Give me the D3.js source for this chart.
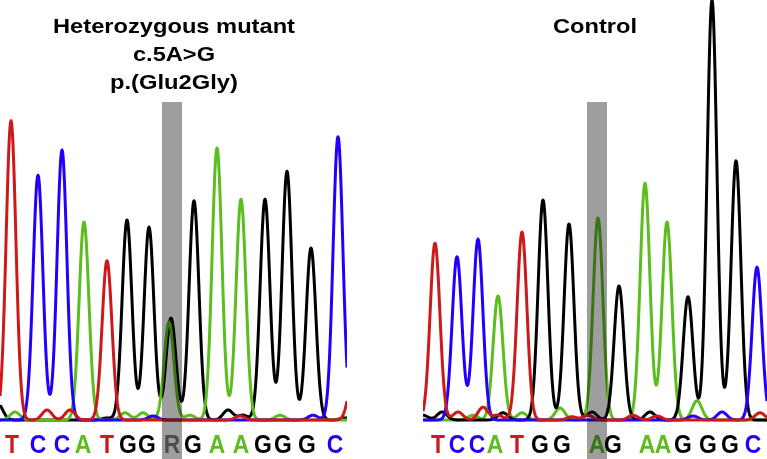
<!DOCTYPE html>
<html>
<head>
<meta charset="utf-8">
<script src="https://cdn.jsdelivr.net/npm/d3@7"></script>
<style>
  body { margin: 0; background: #fff; }
  svg { display: block; font-family: "Liberation Sans", Arial, sans-serif; }
</style>
</head>
<body>
<div id="chart"></div>
<script>
// base calls and their scan positions
var mutantBases = ['T', 'C', 'C', 'A', 'T', 'G', 'G', 'R', 'G', 'A', 'A', 'G', 'G', 'G', 'C'];
var mutantCalls = [12, 38, 62, 83, 107, 128, 147, 172, 193, 217, 241, 263, 283, 307, 335];
var controlBases = ['T', 'C', 'C', 'A', 'T', 'G', 'G', 'A', 'G', 'A', 'A', 'G', 'G', 'G', 'C'];
var controlCalls = [15, 34, 54, 72, 94, 117, 139, 174, 190, 224, 240, 260, 285, 307, 330];

// peaks per dye channel, [scan, signal]
var mutantA = [[84, 495], [169, 245], [217, 680], [241, 552], [15, 20], [125, 18], [143, 18], [190, 12], [280, 12]];
var mutantC = [[38, 612], [62, 675], [338, 708], [153, 10], [313, 12]];
var mutantG = [[127, 500], [149, 482], [171, 255], [194, 548], [265, 552], [287, 622], [311, 430], [-2, 40], [107, 5], [228, 25], [243, 12], [345, 5]];
var mutantT = [[11, 748], [107, 398], [47, 25], [70, 25], [240, 10], [353, 100]];

var controlA = [[75, 310], [175, 505], [222, 592], [244, 495], [50, 12], [99, 18], [137, 30], [274, 48]];
var controlC = [[34, 408], [55, 452], [334, 382], [270, 10], [299, 20]];
var controlG = [[120, 550], [146, 490], [196, 335], [265, 308], [289, 1050], [313, 648], [0, 12], [19, 20], [80, 18], [169, 20], [227, 20]];
var controlT = [[12, 442], [99, 470], [35, 20], [60, 32], [75, 12], [149, 8], [165, 12], [210, 12], [234, 10], [337, 18]];

var width = 767, height = 459, sigma = 4.9;

var colors = { A: '#5bbd1e', C: '#2200ff', G: '#000000', T: '#cc1a1a', R: '#7c7c7c' };

var svg = d3.select('#chart').append('svg')
    .attr('width', width)
    .attr('height', height);

var y = d3.scaleLinear().domain([0, 1050]).range([420, 0]);

function trace(peaks, s0, s1) {
    return d3.range(s0, s1 + 0.01, 0.5).map(function(s) {
        var v = d3.sum(peaks, function(p) {
            return p[1] * Math.exp(-(s - p[0]) * (s - p[0]) / (2 * sigma * sigma));
        });
        return [s, v];
    });
}

function panel(id, x, channels, bases, calls, mark) {
    var g = svg.append('g');

    g.append('clipPath').attr('id', id)
        .append('rect')
        .attr('x', x.range()[0]).attr('y', -5)
        .attr('width', x.range()[1] - x.range()[0]).attr('height', 430);

    var line = d3.line()
        .x(function(d) { return x(d[0]); })
        .y(function(d) { return y(d[1]); });

    g.append('g')
        .attr('clip-path', 'url(#' + id + ')')
        .selectAll('path')
        .data(channels)
        .enter().append('path')
        .attr('d', function(d) { return line(trace(d.peaks, x.domain()[0], x.domain()[1])); })
        .attr('fill', 'none')
        .attr('stroke', function(d) { return colors[d.base]; })
        .attr('stroke-width', 3)
        .attr('stroke-linejoin', 'round');

    // letters are a little condensed in the original
    g.selectAll('text.base')
        .data(bases)
        .enter().append('text')
        .attr('class', 'base')
        .attr('transform', function(d, i) { return 'translate(' + x(calls[i]) + ',453) scale(0.88,1)'; })
        .attr('text-anchor', 'middle')
        .attr('font-size', 26)
        .attr('font-weight', 'bold')
        .attr('fill', function(d) { return colors[d]; })
        .text(function(d) { return d; });

    // highlighted position
    g.append('rect')
        .attr('x', x(calls[mark]) - 10)
        .attr('y', 102)
        .attr('width', 20)
        .attr('height', height - 102)
        .attr('fill', '#9e9e9e')
        .style('mix-blend-mode', 'multiply');
}

var xMut = d3.scaleLinear().domain([0, 347]).range([0, 347]);
var xCtl = d3.scaleLinear().domain([0, 344]).range([423, 767]);

panel('clipMut', xMut, [
    { base: 'G', peaks: mutantG },
    { base: 'A', peaks: mutantA },
    { base: 'C', peaks: mutantC },
    { base: 'T', peaks: mutantT }
], mutantBases, mutantCalls, 7);

panel('clipCtl', xCtl, [
    { base: 'A', peaks: controlA },
    { base: 'G', peaks: controlG },
    { base: 'C', peaks: controlC },
    { base: 'T', peaks: controlT }
], controlBases, controlCalls, 7);

var titles = [
    { text: 'Heterozygous mutant', x: 174, y: 33, w: 242 },
    { text: 'c.5A>G', x: 174, y: 61, w: 82 },
    { text: 'p.(Glu2Gly)', x: 174, y: 89, w: 128 },
    { text: 'Control', x: 595, y: 33, w: 84 }
];

svg.selectAll('text.title')
    .data(titles)
    .enter().append('text')
    .attr('class', 'title')
    .attr('x', function(d) { return d.x - d.w / 2; })
    .attr('y', function(d) { return d.y; })
    .attr('textLength', function(d) { return d.w; })
    .attr('lengthAdjust', 'spacingAndGlyphs')
    .attr('font-size', 21)
    .attr('font-weight', 'bold')
    .text(function(d) { return d.text; });
</script>
</body>
</html>
